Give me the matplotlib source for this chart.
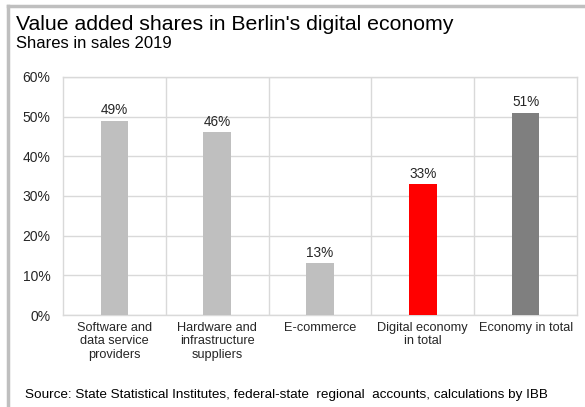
import numpy as np
import matplotlib.pyplot as plt
from matplotlib.lines import Line2D

plt.rcParams['font.family'] = ['Liberation Sans', 'DejaVu Sans']

categories = ["Software and\ndata service\nproviders", "Hardware and\ninfrastructure\nsuppliers",
              "E-commerce", "Digital economy\nin total", "Economy in total"]
shares = [49, 46, 13, 33, 51]
bar_colors = ['#BFBFBF', '#BFBFBF', '#BFBFBF', '#FF0000', '#7F7F7F']
yticks = [0, 10, 20, 30, 40, 50, 60]

fig = plt.figure(figsize=(5.85, 4.07), dpi=100)
ax = fig.add_axes([0.1077, 0.226, 0.8786, 0.585])

x = np.arange(len(categories))
ax.bar(x, shares, width=0.27, color=bar_colors, zorder=3)
for xi, v in zip(x, shares):
    ax.text(xi, v + 0.8, f"{v}%", ha='center', va='bottom', fontsize=9.8, color='#262626')

ax.set_xlim(-0.5, len(categories) - 0.5)
ax.set_ylim(0, 60)
ax.set_yticks(yticks)
ax.set_yticklabels([f"{t}%" for t in yticks], fontsize=10, color='#262626')
ax.set_xticks(x)
ax.set_xticklabels(categories, fontsize=9.2, color='#262626', linespacing=1.15)
ax.tick_params(length=0, pad=5)
ax.tick_params(axis='y', pad=9)

# horizontal gridlines plus separators between categories
ax.grid(axis='y', color='#D9D9D9', linewidth=1, zorder=0)
for b in np.arange(0.5, len(categories) - 1, 1):
    ax.axvline(b, color='#D9D9D9', linewidth=1, zorder=0)
for s in ax.spines.values():
    s.set_color('#D9D9D9')
    s.set_linewidth(1)

fig.text(0.027, 0.926, "Value added shares in Berlin's digital economy", fontsize=15.3, color='#000000')
fig.text(0.027, 0.881, "Shares in sales 2019", fontsize=12, color='#000000')
fig.text(0.043, 0.022, "Source: State Statistical Institutes, federal-state  regional  accounts, calculations by IBB",
         fontsize=9.7, color='#000000')

# frame on the top and left edges
fig.add_artist(Line2D([0.013, 1.0], [0.985, 0.985], color='#BFBFBF', linewidth=2.5, transform=fig.transFigure))
fig.add_artist(Line2D([0.013, 0.013], [0.0, 0.985], color='#BFBFBF', linewidth=2.5, transform=fig.transFigure))

fig.savefig("out.png", dpi=100)
